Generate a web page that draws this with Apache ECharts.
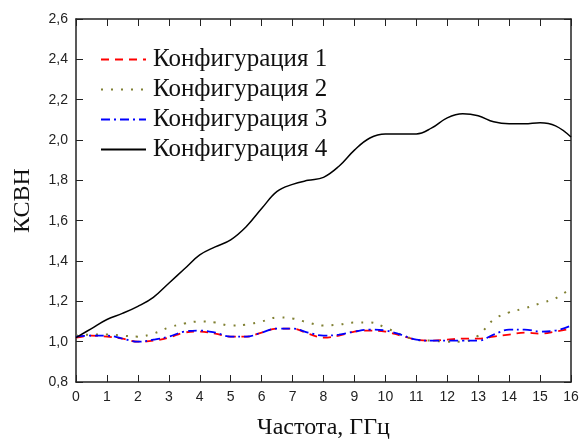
<!DOCTYPE html>
<html>
<head>
<meta charset="utf-8">
<script src="https://cdn.jsdelivr.net/npm/echarts@6/dist/echarts.min.js"></script>
<style>
  html, body { margin: 0; padding: 0; background: #fff; }
  #chart { width: 579px; height: 439px; }
</style>
</head>
<body>
<div id="chart"></div>
<script>
// frequency, GHz (step 0.5)
var freq = [0,0.5,1,1.5,2,2.5,3,3.5,4,4.5,5,5.5,6,6.5,7,7.5,8,8.5,9,9.5,10,10.5,11,11.5,12,12.5,13,13.5,14,14.5,15,15.5,16]
var config1 = [1.02,1.03,1.025,1.015,1.0,1.005,1.02,1.045,1.05,1.04,1.025,1.025,1.045,1.065,1.065,1.04,1.02,1.03,1.05,1.055,1.05,1.03,1.01,1.005,1.01,1.015,1.015,1.025,1.035,1.045,1.04,1.05,1.065]
var config2 = [1.03,1.035,1.035,1.03,1.025,1.04,1.07,1.09,1.10,1.095,1.08,1.085,1.10,1.12,1.115,1.095,1.08,1.085,1.095,1.095,1.07,1.035,1.01,1.005,1.0,1.0,1.03,1.11,1.145,1.165,1.19,1.215,1.265]
var config3 = [1.025,1.03,1.03,1.015,1.0,1.01,1.025,1.05,1.055,1.045,1.025,1.025,1.045,1.065,1.065,1.045,1.03,1.035,1.05,1.06,1.055,1.035,1.01,1.005,1.005,1.005,1.005,1.035,1.06,1.06,1.05,1.055,1.08]
var config4 = [1.02,1.065,1.11,1.14,1.175,1.22,1.29,1.36,1.43,1.47,1.505,1.57,1.66,1.745,1.78,1.80,1.815,1.87,1.95,2.01,2.03,2.03,2.03,2.06,2.11,2.13,2.12,2.09,2.08,2.08,2.085,2.07,2.015]
var names = ['Конфигурация 1','Конфигурация 2','Конфигурация 3','Конфигурация 4']

function pairs(vals) {
    var out = []
    for (var i in freq) {
        out.push([freq[i], vals[i]])
    }
    return out
}

var chart = echarts.init(document.getElementById('chart'))
var tickStyle = { show: true, inside: true, length: 7, lineStyle: { color: '#222', width: 1 } }
var frameLine = { show: true, onZero: false, lineStyle: { color: '#222', width: 1.5 } }

function makeSeries(name, vals, color, type, width) {
    return {
        name: name,
        type: 'line',
        data: pairs(vals),
        smooth: 0.4,
        symbol: 'none',
        lineStyle: { color: color, type: type, width: width },
        itemStyle: { color: color }
    }
}

var option = {
    backgroundColor: '#fff',
    animation: false,
    grid: { left: 76, right: 8, top: 19, bottom: 57, outerBoundsMode: 'none' },
    legend: {
        orient: 'vertical',
        left: 95,
        top: 42,
        itemWidth: 45,
        itemHeight: 14,
        itemGap: 5,
        data: names,
        itemStyle: { opacity: 0 },
        textStyle: { fontFamily: 'Liberation Serif', fontSize: 25, lineHeight: 25, color: '#111', padding: [0, 0, 0, 2] }
    },
    xAxis: [{
        type: 'value',
        min: 0, max: 16, interval: 1,
        axisLine: frameLine,
        axisTick: tickStyle,
        splitLine: { show: false },
        axisLabel: { fontFamily: 'Liberation Sans', fontSize: 14, color: '#222', margin: 8 },
        name: 'Частота, ГГц',
        nameLocation: 'middle',
        nameGap: 34,
        nameTextStyle: { fontFamily: 'Liberation Serif', fontSize: 24, color: '#111' }
    }, {
        type: 'value', position: 'top',
        min: 0, max: 16, interval: 1,
        axisLine: frameLine,
        axisTick: tickStyle,
        axisLabel: { show: false },
        splitLine: { show: false }
    }],
    yAxis: [{
        type: 'value',
        min: 0.8, max: 2.6, interval: 0.2,
        axisLine: frameLine,
        axisTick: tickStyle,
        splitLine: { show: false },
        axisLabel: {
            fontFamily: 'Liberation Sans', fontSize: 14, color: '#222', margin: 8,
            formatter: function (v) { return v.toFixed(1).replace('.', ',') }
        },
        name: 'КСВН',
        nameLocation: 'middle',
        nameGap: 41,
        nameRotate: 90,
        nameTextStyle: { fontFamily: 'Liberation Serif', fontSize: 24, color: '#111' }
    }, {
        type: 'value', position: 'right',
        min: 0.8, max: 2.6, interval: 0.2,
        axisLine: frameLine,
        axisTick: tickStyle,
        axisLabel: { show: false },
        splitLine: { show: false }
    }],
    series: [
        makeSeries(names[0], config1, '#ff0000', [8, 6], 1.8),
        makeSeries(names[1], config2, '#808033', [2, 8], 2),
        makeSeries(names[2], config3, '#0000ff', [9, 4, 2, 4], 1.8),
        makeSeries(names[3], config4, '#000000', 'solid', 1.5)
    ]
}
chart.setOption(option)
</script>
</body>
</html>
